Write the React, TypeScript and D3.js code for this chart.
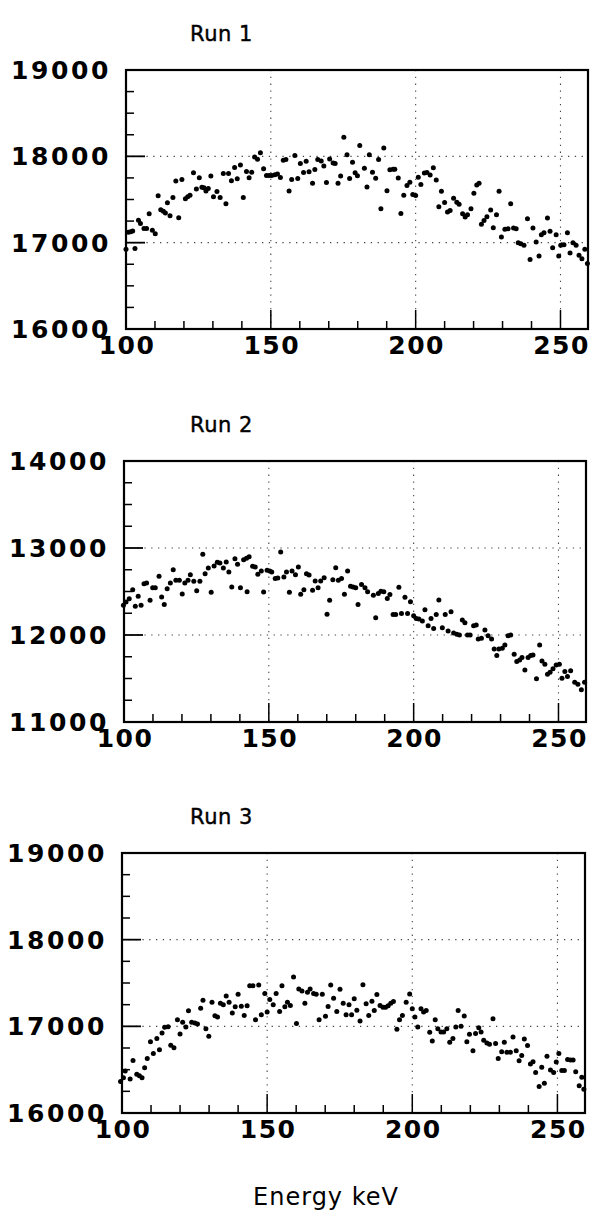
import React from "react";
import * as d3 from "d3";

// ---------- DATA ----------
const run1Energy = [100,100.8,101.6,102.3,103.1,104.3,105,106.2,107.1,108,109.1,110.1,111.1,112,112.9,113.6,114.3,115.2,116.2,117.2,118.2,119.3,120.5,121.3,122.1,123.3,124.3,125.3,126.2,126.9,127.6,128.4,129.3,130.2,131.4,132.5,133.6,134.5,135.4,136.4,137.5,138.4,139.5,140.5,141.6,142.5,143.4,144.4,145.4,146.4,147.5,148.5,149.4,150.3,151.4,152.3,153.3,154.3,155.2,156.3,157.2,158.3,159.3,160.2,161.3,162.2,163.2,164.4,165.2,166.2,167.4,168.3,169.2,170.3,171.5,172.2,173.2,174.1,175.2,176.3,177.2,178.2,179.1,179.9,180.7,182.3,183.2,184,185.1,186.2,187.2,188,189,190.1,191.1,192.2,192.8,194,194.9,195.9,197,198,199,200,200.9,201.8,203,203.9,205,206.1,207.1,208,208.9,210,211,211.9,213.1,214.2,215,216.2,217.1,217.9,219.1,220.1,221.1,221.9,222.7,223.6,224.6,225.9,226.8,227.9,228.8,229.6,230.8,231.9,232.8,233.8,234.7,235.4,236.3,237.4,238.6,239.5,240.5,241.6,242.6,243.4,244.3,245.5,246.4,247.3,248.5,249.4,250.1,251.2,252.4,253.3,254.3,255.4,256.4,257.4,258.4,259.3];
const run1Counts = [16924,17122,17126,17134,16931,17260,17221,17164,17164,17336,17145,17103,17542,17382,17363,17344,17462,17313,17523,17714,17290,17733,17508,17531,17550,17809,17622,17752,17641,17637,17599,17626,17771,17531,17592,17523,17802,17450,17802,17718,17870,17740,17901,17523,17824,17752,17817,17992,17966,18042,17855,17779,17779,17779,17786,17794,17756,17954,17962,17599,17733,18011,17744,17916,17813,17943,17821,17687,17847,17962,17947,17889,17698,17969,17924,17916,17687,17771,18221,18019,17744,17931,17809,17775,18126,17862,17646,18019,17815,17746,17962,17392,18096,17600,17846,17850,17850,17750,17338,17550,17662,17700,17558,17546,17758,17673,17808,17812,17785,17869,17727,17415,17596,17465,17354,17373,17515,17469,17446,17335,17296,17323,17392,17573,17669,17688,17212,17258,17300,17377,17173,17323,17596,17065,17154,17162,17450,17169,17162,17000,16988,16969,17277,16804,17169,17008,16846,17092,17115,17285,17131,16942,17092,16846,16969,16977,17115,16881,17000,16969,16854,16815,16923,16758];

const run2Energy = [99.8,100.7,101.8,103,103.9,104.9,105.9,106.9,107.8,109,109.9,110.8,112.1,113,113.9,114.9,116,117,117.9,119.1,120.1,121,122.1,122.9,124.1,125.1,126.2,127.2,128,129.1,130.1,131.1,132.2,133.1,134.3,135.3,136.2,137.2,138.3,139.2,140.2,141.3,142.3,142.5,143.2,144.4,145.3,146.2,147.4,148.2,149.4,150.3,151,152.2,153.1,154.1,155.2,156.1,157.1,158,159.2,160.2,161,162.1,163,163.9,165.1,166,167,167.9,169.1,170.1,171,172.1,173.1,174,175.1,176.1,177.2,178.2,179.1,180,180.8,182,183.2,184.1,186.1,186.9,187.8,188.7,189.7,190.9,191.8,192.9,193.8,194.9,195.8,197,197.9,198.9,200,200.9,201.8,203,203.9,205,206,206.9,207.8,208.7,209.9,210.9,211.9,212.9,213.8,214.9,215.8,216.8,217.7,218.6,219.5,220.7,221.6,222.3,223.4,224.6,225.7,226.9,227.8,228.7,229.4,230.6,231.5,232.6,233.5,234.7,235.6,236.6,237.4,238.4,239.5,240.4,241.2,242.4,243.5,244.3,245.3,246.2,247.1,248.1,249.2,250.3,251.2,252.2,253.1,254.2,255.6,256.7,257.9,259];
const run2Counts = [12341,12379,12418,12521,12330,12444,12341,12590,12598,12398,12544,12544,12674,12437,12352,12533,12598,12751,12628,12628,12471,12598,12628,12693,12617,12510,12617,12927,12705,12770,12490,12793,12835,12828,12770,12839,12724,12552,12877,12812,12544,12866,12881,12498,12900,12789,12782,12697,12736,12494,12743,12736,12724,12648,12655,12954,12667,12724,12490,12736,12693,12782,12467,12521,12705,12690,12513,12621,12544,12621,12659,12238,12398,12636,12774,12628,12648,12467,12736,12559,12552,12544,12352,12580,12542,12496,12458,12198,12477,12504,12496,12420,12466,12237,12237,12550,12248,12435,12248,12382,12221,12191,12183,12160,12290,12107,12191,12076,12237,12401,12084,12237,12046,12267,12023,12008,12000,12172,12141,12000,12000,12107,12115,11954,11962,12057,11992,11954,11840,11763,11840,11847,11885,11992,12000,11779,11695,11714,11740,11599,11740,11763,11771,11496,11885,11702,11664,11550,11573,11611,11656,11664,11504,11580,11523,11588,11458,11435,11370,11458];

const run3Energy = [99.5,100.5,101.1,102.8,103.8,105.1,106,106.9,107.8,108.7,109.8,110.8,112,112.9,113.8,114.7,115.9,116.8,117.9,119.1,120,120.9,122,122.9,124,125.1,126,127.1,127.9,128.9,129.9,131,132,132.9,133.9,134.9,135.9,136.9,138,139,140,141.1,142.1,143.1,144,145.1,146,147.1,148,149.2,150,150.9,152.1,153.1,154.3,155.1,156.1,157,158,159.1,160.1,160.9,162,163,163.9,164.8,166,166.9,167.9,169,170.1,171,171.9,172.9,174,175.1,176.2,177.2,178.2,179.1,180,180.9,182,183,184.1,185,186.1,186.9,187.8,188.9,189.9,190.8,191.7,192.6,193.5,194.7,195.6,196.6,197.9,199.1,200,200.9,201.9,203,203.9,204.8,206,206.9,207.9,208.8,209.9,210.8,211.9,212.9,214,215,215.8,216.8,217.9,218.8,219.7,220.9,221.8,222.9,223.7,224.6,225.7,226.6,227.8,228.7,229.6,230.8,231.7,232.6,233.8,234.7,235.8,236.8,237.7,238.6,239.7,240.7,241.6,242.5,243.7,244.6,245.5,246.4,247.6,248.7,249.6,250.5,251.5,252.4,253.5,254.5,255.4,256.3,257.5,258.4,259.1];
const run3Counts = [16363,16408,16485,16393,16607,16447,16431,16408,16523,16630,16821,16687,16859,16729,16924,16989,16996,16782,16752,17076,16912,17046,16992,17179,17046,17038,17027,17210,17302,16973,16885,17279,17122,17107,17267,17248,17351,17279,17153,17225,17370,17233,17126,17237,17469,17469,17076,17477,17134,17378,17164,17309,17248,17378,17172,17469,17225,17279,17240,17569,17034,17431,17408,17267,17393,17431,17378,17370,17076,17370,17115,17229,17477,17324,17172,17427,17267,17134,17248,17134,17317,17187,17061,17481,17260,17126,17290,17183,17366,17240,17221,17221,17237,17267,17286,16966,17076,17126,17279,17374,17202,17107,16992,17202,17164,17183,16931,16832,17076,16973,16935,16935,16973,16817,16859,16992,17183,17000,17118,16821,16908,16718,16916,16985,16935,16840,16809,16794,17088,16802,16630,16706,16817,16702,16702,16878,16718,16603,16664,16855,16779,16565,16592,16466,16305,16527,16344,16656,16496,16466,16588,16687,16489,16489,16618,16611,16611,16477,16313,16412,16275];

const runTitles = ["Run 1", "Run 2", "Run 3"];
const run1YTicks = [16000, 17000, 18000, 19000];
const run2YTicks = [11000, 12000, 13000, 14000];
const run3YTicks = [16000, 17000, 18000, 19000];
const xTickLabels = [100, 150, 200, 250];
const xDomain = [100, 259.5];
const xAxisTitle = "Energy keV";

// ---------- LAYOUT ----------
const panels = [
  { title: runTitles[0], energy: run1Energy, counts: run1Counts, yTicks: run1YTicks, left: 126, right: 588, top: 70, bottom: 329 },
  { title: runTitles[1], energy: run2Energy, counts: run2Counts, yTicks: run2YTicks, left: 124, right: 586, top: 461, bottom: 722 },
  { title: runTitles[2], energy: run3Energy, counts: run3Counts, yTicks: run3YTicks, left: 122, right: 585, top: 853, bottom: 1113 },
];

const font = "'DejaVu Sans', sans-serif";

function Panel({ p }: { p: (typeof panels)[number] }) {
  const x = d3.scaleLinear().domain(xDomain).range([p.left, p.right]);
  const yMin = p.yTicks[0];
  const yMax = p.yTicks[p.yTicks.length - 1];
  const y = d3.scaleLinear().domain([yMin, yMax]).range([p.bottom, p.top]);
  const xMinor = d3.range(110, 260, 10).filter((v) => v % 50 !== 0);
  const yMinor = d3.range(yMin + 250, yMax, 250).filter((v) => v % 1000 !== 0);
  const gridX = xTickLabels.filter((v) => v > xDomain[0]);
  const gridY = p.yTicks.slice(1, -1);
  return (
    <g>
      <text x={190} y={p.top - 29} fontFamily={font} fontSize={21} fontWeight={500} letterSpacing={0.5} fill="#000" stroke="#000" strokeWidth={0.4}>{p.title}</text>
      {gridX.map((v) => (
        <line key={"gx" + v} x1={x(v)} x2={x(v)} y1={p.top} y2={p.bottom} stroke="#444" strokeWidth={1.1} strokeDasharray="1.3,5.5" />
      ))}
      {gridY.map((v) => (
        <line key={"gy" + v} x1={p.left} x2={p.right} y1={y(v)} y2={y(v)} stroke="#444" strokeWidth={1.1} strokeDasharray="1.3,5.5" />
      ))}
      {xMinor.map((v) => (
        <line key={"xm" + v} x1={x(v)} x2={x(v)} y1={p.bottom} y2={p.bottom - 8} stroke="#000" strokeWidth={1.5} />
      ))}
      {gridX.map((v) => (
        <line key={"xM" + v} x1={x(v)} x2={x(v)} y1={p.bottom} y2={p.bottom - 19} stroke="#000" strokeWidth={1.5} />
      ))}
      {yMinor.map((v) => (
        <line key={"ym" + v} x1={p.left} x2={p.left + 8} y1={y(v)} y2={y(v)} stroke="#000" strokeWidth={1.5} />
      ))}
      {gridY.map((v) => (
        <line key={"yM" + v} x1={p.left} x2={p.left + 19} y1={y(v)} y2={y(v)} stroke="#000" strokeWidth={1.8} />
      ))}
      <rect x={p.left} y={p.top} width={p.right - p.left} height={p.bottom - p.top} fill="none" stroke="#000" strokeWidth={2.2} />
      {p.energy.map((e, i) => (
        <circle key={"pt" + i} cx={x(e)} cy={y(p.counts[i])} r={2.5} fill="#000" />
      ))}
      {p.yTicks.map((v) => (
        <text key={"yl" + v} x={p.left - 15} y={y(v) + 9} textAnchor="end" fontFamily={font} fontSize={25} fontWeight="bold" letterSpacing={2.6} fill="#000">{v}</text>
      ))}
      {xTickLabels.map((v) => (
        <text key={"xl" + v} x={x(v) + 1} y={p.bottom + 25} textAnchor="middle" fontFamily={font} fontSize={25} fontWeight="bold" letterSpacing={1.5} fill="#000">{v}</text>
      ))}
    </g>
  );
}

export default function App() {
  return (
    <svg width={592} height={1232} style={{ position: "absolute", left: 0, top: 0, background: "#fff" }}>
      <rect x={0} y={0} width={592} height={1232} fill="#fff" />
      {panels.map((p, i) => (
        <Panel key={i} p={p} />
      ))}
      <text x={326} y={1205} textAnchor="middle" fontFamily={font} fontSize={24} letterSpacing={1} fill="#000">{xAxisTitle}</text>
    </svg>
  );
}
